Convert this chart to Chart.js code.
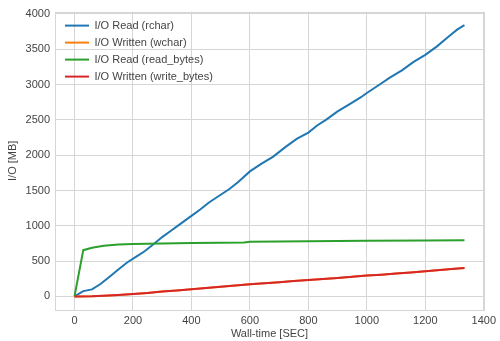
<!DOCTYPE html>
<html>
<head>
<meta charset="utf-8">
<script src="https://cdn.jsdelivr.net/npm/chart.js@4/dist/chart.umd.min.js"></script>
<style>
  html, body { margin: 0; padding: 0; background: #ffffff; }
  #wrap { width: 500px; height: 341px; position: relative; }
</style>
</head>
<body>
<div id="wrap"><canvas id="io"></canvas></div>
<script>
// Wall-time samples (seconds) and cumulative I/O (MB) per counter
const rcharTime   = [0, 30, 60, 90, 120, 150, 180, 210, 240, 270, 300, 330, 360, 400, 430, 460, 500, 530, 560, 600, 640, 680, 720, 760, 800, 830, 860, 900, 940, 980, 1000, 1040, 1080, 1120, 1160, 1200, 1240, 1280, 1310, 1334];
const rcharMB     = [0, 75, 100, 180, 280, 380, 480, 560, 640, 740, 840, 930, 1020, 1140, 1230, 1330, 1440, 1520, 1620, 1770, 1880, 1980, 2110, 2230, 2320, 2420, 2500, 2620, 2720, 2820, 2880, 2990, 3100, 3200, 3320, 3420, 3540, 3680, 3780, 3840];

const readBytesTime = [0, 30, 60, 100, 150, 200, 300, 400, 500, 580, 600, 800, 1000, 1200, 1334];
const readBytesMB   = [0, 655, 690, 716, 735, 744, 750, 755, 760, 765, 775, 780, 788, 793, 797];

const writeTime   = [0, 60, 100, 150, 200, 250, 300, 350, 400, 450, 500, 550, 600, 650, 700, 750, 800, 850, 900, 950, 1000, 1050, 1100, 1150, 1200, 1250, 1300, 1334];
const wcharMB     = [0, 2, 9, 20, 33, 50, 70, 85, 103, 118, 136, 155, 173, 185, 201, 218, 234, 248, 262, 280, 295, 308, 323, 340, 356, 375, 392, 403];
const writeBytesMB = [0, 2, 9, 20, 33, 50, 70, 85, 103, 118, 136, 155, 173, 185, 201, 218, 234, 248, 262, 280, 295, 308, 323, 340, 356, 375, 392, 403];

const xTickValues = [0, 200, 400, 600, 800, 1000, 1200, 1400];
const yTickValues = [0, 500, 1000, 1500, 2000, 2500, 3000, 3500, 4000];

const seriesNames = ['I/O Read (rchar)', 'I/O Written (wchar)', 'I/O Read (read_bytes)', 'I/O Written (write_bytes)'];
const seriesColors = ['#1f77b4', '#ff7f0e', '#2ca02c', '#d62728'];

function pairs(xs, ys) { return xs.map((x, i) => ({ x: x, y: ys[i] })); }

const gridColor = '#d6d6d6';
const textColor = '#444444';
const fontFamily = '"Liberation Sans", Arial, sans-serif';

// light frame around the whole plotting area
const frame = {
  id: 'frame',
  afterDatasetsDraw(chart) {
    const a = chart.chartArea, ctx = chart.ctx;
    ctx.save();
    ctx.strokeStyle = gridColor;
    ctx.lineWidth = 1;
    ctx.strokeRect(Math.round(a.left) + 0.5, Math.round(a.top) + 0.5,
                   Math.round(a.right - a.left), Math.round(a.bottom - a.top));
    ctx.restore();
  }
};

// keep the legend inset from the upper-left corner of the plot
const legendInset = {
  id: 'legendInset',
  afterLayout(chart) {
    const lg = chart.legend, a = chart.chartArea;
    if (!lg) return;
    const w = lg.right - lg.left;
    lg.left = a.left + 4;
    lg.right = lg.left + w;
    lg.top = a.top + 2.5;
    lg.bottom = a.bottom;
  }
};

const datasets = [
  pairs(rcharTime, rcharMB),
  pairs(writeTime, wcharMB),
  pairs(readBytesTime, readBytesMB),
  pairs(writeTime, writeBytesMB)
].map((d, i) => ({
  label: seriesNames[i],
  data: d,
  borderColor: seriesColors[i],
  backgroundColor: seriesColors[i],
  borderWidth: 2,
  pointRadius: 0,
  tension: 0,
  fill: false,
  order: 4 - i
}));

new Chart(document.getElementById('io'), {
  type: 'line',
  data: { datasets: datasets },
  options: {
    responsive: true,
    maintainAspectRatio: false,
    animation: false,
    layout: { padding: { left: 0, right: 11, top: 10, bottom: 0 } },
    plugins: {
      tooltip: { enabled: false },
      legend: {
        position: 'chartArea',
        align: 'start',
        labels: {
          usePointStyle: true,
          pointStyle: 'line',
          pointStyleWidth: 24,
          boxHeight: 11,
          padding: 6,
          color: textColor,
          font: { family: fontFamily, size: 11 },
          sort: (a, b) => a.datasetIndex - b.datasetIndex
        }
      }
    },
    scales: {
      x: {
        type: 'linear',
        min: -66.7,
        max: 1400.7,
        afterBuildTicks: s => { s.ticks = xTickValues.map(v => ({ value: v })); },
        afterFit: s => { s.height = 31; },
        grid: { color: gridColor, drawTicks: false },
        border: { display: false },
        ticks: { color: textColor, padding: 4, font: { family: fontFamily, size: 11 }, maxRotation: 0,
                 callback: v => String(v) },
        title: { display: true, text: 'Wall-time [SEC]', color: textColor, padding: { top: 4, bottom: 0 },
                 font: { family: fontFamily, size: 11 } }
      },
      y: {
        type: 'linear',
        min: -192,
        max: 4032,
        afterBuildTicks: s => { s.ticks = yTickValues.map(v => ({ value: v })); },
        afterFit: s => { s.width = 55; },
        grid: { color: gridColor, drawTicks: false },
        border: { display: false },
        ticks: { color: textColor, padding: 5, font: { family: fontFamily, size: 11 },
                 callback: v => String(v) },
        title: { display: true, text: 'I/O [MB]', color: textColor, padding: { top: 6, bottom: 0 },
                 font: { family: fontFamily, size: 11 } }
      }
    }
  },
  plugins: [frame, legendInset]
});
</script>
</body>
</html>
